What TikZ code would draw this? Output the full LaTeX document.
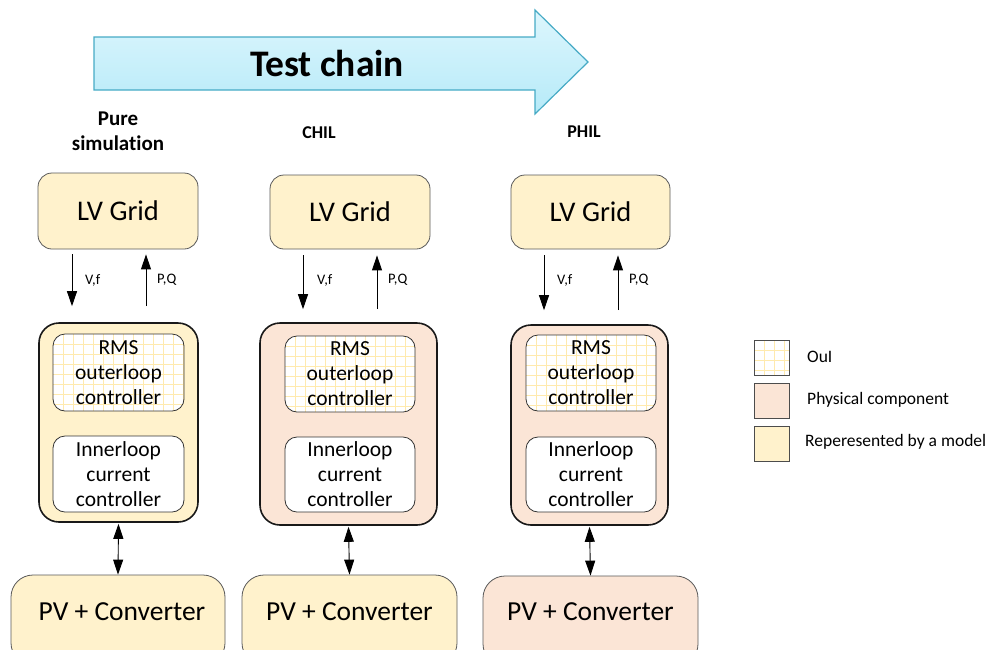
\documentclass[tikz,border=0pt]{standalone}
\usepackage{fontspec}
\setmainfont[Ligatures=NoCommon]{Carlito}
\usetikzlibrary{arrows.meta}
\definecolor{yel}{HTML}{FFF2CC}
\definecolor{pch}{HTML}{FBE5D6}
\definecolor{gridc}{HTML}{FFEAAE}
\definecolor{arrtop}{HTML}{DDF6FD}
\definecolor{arrbot}{HTML}{B6EAF8}
\definecolor{arrdraw}{HTML}{46AAC5}
\begin{document}
\begin{tikzpicture}[x=1pt,y=-1pt,
  every node/.style={inner sep=0pt},
  lvbox/.style={draw=black!65, line width=0.8pt, rounded corners=14pt, font=\fontsize{28.5}{32}\selectfont},
  pvbox/.style={draw=black!65, line width=0.8pt, rounded corners=22pt},
  pvtext/.style={font=\fontsize{27.5}{32}\selectfont},
  ctrlbox/.style={draw=black!90, line width=1.6pt, rounded corners=20pt},
  innbox/.style={draw=black!80, line width=0.8pt, rounded corners=12pt, fill=white, align=center, font=\fontsize{21.5}{25}\selectfont},
  gridfill/.style={path picture={
    \foreach \k in {1,...,16}{
      \draw[gridc, line width=0.9pt] ([xshift=\k*10pt]path picture bounding box.north west) -- ([xshift=\k*10pt]path picture bounding box.south west);
      \draw[gridc, line width=0.9pt] ([yshift=-\k*10pt]path picture bounding box.north west) -- ([yshift=-\k*10pt]path picture bounding box.north east);
    }}},
  hdr/.style={align=center, font=\bfseries\fontsize{18}{25}\selectfont},
  hdrbig/.style={align=center, font=\bfseries\fontsize{21}{25}\selectfont},
  lbl/.style={anchor=west, font=\fontsize{14.5}{17}\selectfont},
  arr/.style={-{Triangle[width=10pt,length=15pt]}, line width=0.9pt},
  darr/.style={{Triangle[width=10pt,length=15pt]}-{Triangle[width=10pt,length=15pt]}, line width=0.9pt},
  legsq/.style={draw=black!70, line width=0.8pt, minimum width=35pt, minimum height=35pt},
  legtx/.style={anchor=west, font=\fontsize{17.5}{21}\selectfont}
]
\clip (0,0) rectangle (990,649);
\useasboundingbox (0,0) rectangle (990,649);
% big arrow
\draw[arrdraw, line width=1.2pt, top color=arrtop, bottom color=arrbot]
  (94,37) -- (535,37) -- (535,10) -- (588,62) -- (535,114) -- (535,90) -- (94,90) -- cycle;
\node[font=\bfseries\fontsize{37.5}{42}\selectfont] (title) at (327,63) {Test chain};
% headers
\node[hdrbig] (h1) at (118,131.5) {Pure\\simulation};
\node[hdr] (h2) at (319,133) {CHIL};
\node[hdr] (h3) at (584,132) {PHIL};
% LV grid boxes
\node[lvbox, fill=yel, minimum width=160pt, minimum height=76pt] (lv1) at (118,211) {LV Grid};
\node[lvbox, fill=yel, minimum width=160pt, minimum height=74pt] (lv2) at (350,212) {LV Grid};
\node[lvbox, fill=yel, minimum width=159pt, minimum height=74pt] (lv3) at (590.5,212) {LV Grid};
% controller boxes
\node[ctrlbox, fill=yel, minimum width=159pt, minimum height=199pt] (c1) at (118.5,422.5) {};
\node[ctrlbox, fill=pch, minimum width=177pt, minimum height=202pt] (c2) at (348.5,424) {};
\node[ctrlbox, fill=pch, minimum width=157pt, minimum height=200pt] (c3) at (589.5,425) {};
\node[innbox, gridfill, minimum width=131pt, minimum height=77pt] (r1) at (118.5,372.5) {RMS\\outerloop\\controller};
\node[innbox, gridfill, minimum width=130pt, minimum height=76pt] (r2) at (350,374) {RMS\\outerloop\\controller};
\node[innbox, gridfill, minimum width=130pt, minimum height=76pt] (r3) at (591,373) {RMS\\outerloop\\controller};
\node[innbox, minimum width=131pt, minimum height=76pt] (i1) at (118.5,474) {Innerloop\\current\\controller};
\node[innbox, minimum width=130pt, minimum height=75pt] (i2) at (350,474.5) {Innerloop\\current\\controller};
\node[innbox, minimum width=130pt, minimum height=75pt] (i3) at (591,474.5) {Innerloop\\current\\controller};
% PV boxes
\node[pvbox, fill=yel, minimum width=214pt, minimum height=90pt] (p1) at (118,620) {};
\node[pvbox, fill=yel, minimum width=215pt, minimum height=90pt] (p2) at (349.5,620) {};
\node[pvbox, fill=pch, minimum width=215pt, minimum height=90pt] (p3) at (590.5,621) {};
\node[pvtext] (pt1) at (122,612) {PV + Converter};
\node[pvtext] (pt2) at (349.5,612) {PV + Converter};
\node[pvtext] (pt3) at (590.5,612) {PV + Converter};
% V,f and P,Q arrows
\draw[arr] ([xshift=-46pt,yshift=-5pt]lv1.south) -- ([xshift=-46.5pt,yshift=16pt]c1.north);
\draw[arr] ([xshift=27.5pt,yshift=16pt]c1.north) -- ([xshift=28pt,yshift=-5pt]lv1.south);
\draw[arr] ([xshift=-47pt,yshift=-6pt]lv2.south) -- ([xshift=-45.5pt,yshift=13pt]c2.north);
\draw[arr] ([xshift=28.5pt,yshift=13pt]c2.north) -- ([xshift=27pt,yshift=-6pt]lv2.south);
\draw[arr] ([xshift=-46.5pt,yshift=-6pt]lv3.south) -- ([xshift=-45.5pt,yshift=14pt]c3.north);
\draw[arr] ([xshift=28.5pt,yshift=14pt]c3.north) -- ([xshift=27.5pt,yshift=-6pt]lv3.south);
\node[lbl] (vf1) at (85,280) {V,f};
\node[lbl] (pq1) at (157,280) {P,Q};
\node[lbl] (vf2) at (317,280) {V,f};
\node[lbl] (pq2) at (388,280) {P,Q};
\node[lbl] (vf3) at (557,280) {V,f};
\node[lbl] (pq3) at (629,280) {P,Q};
% double arrows
\draw[darr] ([yshift=-1pt]c1.south) -- (p1.north);
\draw[darr] ([yshift=-1pt]c2.south) -- (p2.north);
\draw[darr] ([yshift=-1pt]c3.south) -- (p3.north);
% legend
\node[legsq, fill=white, gridfill] (l1) at (772,357.5) {};
\node[legsq, fill=pch] (l2) at (772,400.5) {};
\node[legsq, fill=yel] (l3) at (772,443.5) {};
\node[legtx] (t1) at (807,357) {OuI};
\node[legtx] (t2) at (807,400) {Physical component};
\node[legtx] (t3) at (805,442) {Reperesented by a model};
\end{tikzpicture}
\end{document}
